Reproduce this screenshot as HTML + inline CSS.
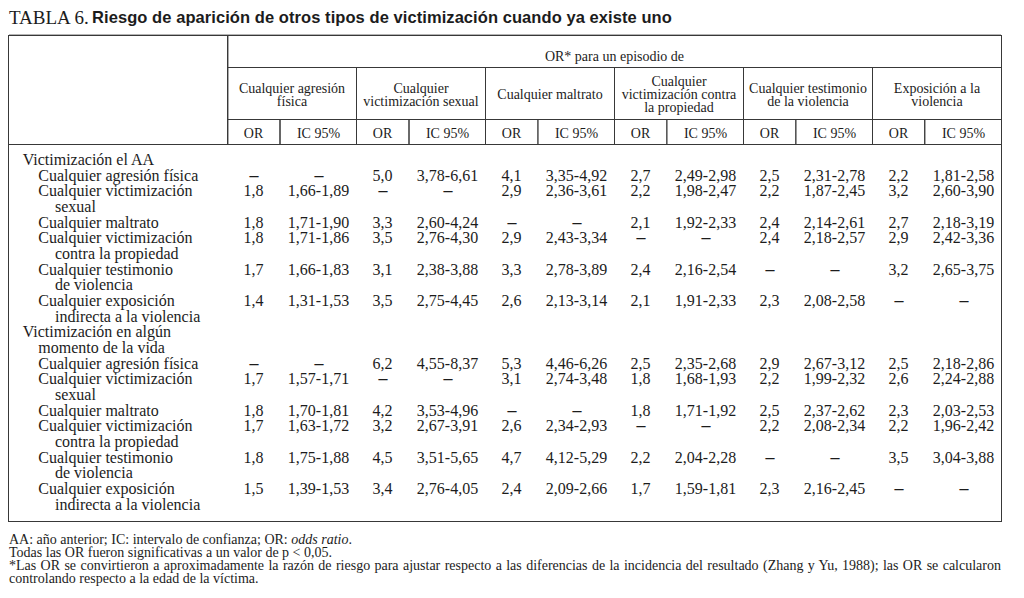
<!DOCTYPE html>
<html lang="es"><head><meta charset="utf-8"><title>Tabla 6</title>
<style>
html,body{margin:0;padding:0;background:#fff;}
#p{position:relative;width:1024px;height:598px;overflow:hidden;background:#fff;}
.t{position:absolute;white-space:nowrap;color:#1c1c1c;font-family:"Liberation Serif", "Times New Roman", serif;}
.l{position:absolute;background:#383838;}
.d{display:inline-block;transform:translateY(-1px) scale(1.12,1.4);}
</style></head><body><div id="p">
<div class="t" style="left:9.00px;top:8.00px;font-size:19px;line-height:19px;">TABLA 6.</div>
<div class="t" style="left:92.00px;top:9.00px;font-size:16.5px;line-height:16.5px;font-weight:bold;letter-spacing:0.07px;font-family:'Liberation Sans', Arial, sans-serif;">Riesgo de aparición de otros tipos de victimización cuando ya existe uno</div>
<div class="l" style="left:8px;top:35px;width:994px;height:1px;"></div>
<div class="l" style="left:9px;top:34px;width:992px;height:1px;background:#b4b4b4;"></div>
<div class="l" style="left:8px;top:521px;width:994px;height:1px;"></div>
<div class="l" style="left:8px;top:35px;width:1px;height:487px;"></div>
<div class="l" style="left:1001px;top:35px;width:1px;height:487px;"></div>
<div class="l" style="left:227px;top:35px;width:1px;height:110px;"></div>
<div class="l" style="left:228px;top:36px;width:1px;height:108px;background:#aaa;"></div>
<div class="l" style="left:227px;top:67px;width:774px;height:1px;"></div>
<div class="l" style="left:227px;top:119px;width:774px;height:1px;"></div>
<div class="l" style="left:8px;top:144px;width:993px;height:1px;"></div>
<div class="l" style="left:356px;top:67px;width:1px;height:78px;"></div>
<div class="l" style="left:485px;top:67px;width:1px;height:78px;"></div>
<div class="l" style="left:614px;top:67px;width:1px;height:78px;"></div>
<div class="l" style="left:743px;top:67px;width:1px;height:78px;"></div>
<div class="l" style="left:872px;top:67px;width:1px;height:78px;"></div>
<div class="l" style="left:279px;top:120px;width:1px;height:24px;background:#666;"></div>
<div class="l" style="left:280px;top:120px;width:1px;height:24px;background:#666;"></div>
<div class="l" style="left:408px;top:120px;width:1px;height:24px;background:#6a6a6a;"></div>
<div class="l" style="left:409px;top:120px;width:1px;height:24px;background:#6a6a6a;"></div>
<div class="l" style="left:537px;top:120px;width:1px;height:24px;background:#666;"></div>
<div class="l" style="left:538px;top:120px;width:1px;height:24px;background:#888;"></div>
<div class="l" style="left:666px;top:120px;width:1px;height:24px;background:#5a5a5a;"></div>
<div class="l" style="left:667px;top:120px;width:1px;height:24px;background:#999;"></div>
<div class="l" style="left:795px;top:120px;width:1px;height:24px;background:#555;"></div>
<div class="l" style="left:796px;top:120px;width:1px;height:24px;background:#999;"></div>
<div class="l" style="left:924px;top:120px;width:1px;height:24px;background:#444;"></div>
<div class="l" style="left:925px;top:120px;width:1px;height:24px;background:#aaa;"></div>
<div class="t" style="left:228.00px;top:50.00px;font-size:14px;line-height:14px;width:773.00px;text-align:center;">OR* para un episodio de</div>
<div class="t" style="left:228.00px;top:82.00px;font-size:14px;line-height:14px;width:128.00px;text-align:center;">Cualquier agresión</div>
<div class="t" style="left:228.00px;top:95.00px;font-size:14px;line-height:14px;width:128.00px;text-align:center;">física</div>
<div class="t" style="left:228.00px;top:127.00px;font-size:14px;line-height:14px;width:51.00px;text-align:center;">OR</div>
<div class="t" style="left:281.00px;top:127.00px;font-size:14px;line-height:14px;width:75.00px;text-align:center;">IC 95%</div>
<div class="t" style="left:357.00px;top:82.00px;font-size:14px;line-height:14px;width:128.00px;text-align:center;">Cualquier</div>
<div class="t" style="left:357.00px;top:95.00px;font-size:14px;line-height:14px;width:128.00px;text-align:center;">victimización sexual</div>
<div class="t" style="left:357.00px;top:127.00px;font-size:14px;line-height:14px;width:51.00px;text-align:center;">OR</div>
<div class="t" style="left:410.00px;top:127.00px;font-size:14px;line-height:14px;width:75.00px;text-align:center;">IC 95%</div>
<div class="t" style="left:486.00px;top:88.00px;font-size:14px;line-height:14px;width:128.00px;text-align:center;">Cualquier maltrato</div>
<div class="t" style="left:486.00px;top:127.00px;font-size:14px;line-height:14px;width:51.00px;text-align:center;">OR</div>
<div class="t" style="left:539.00px;top:127.00px;font-size:14px;line-height:14px;width:75.00px;text-align:center;">IC 95%</div>
<div class="t" style="left:615.00px;top:75.00px;font-size:14px;line-height:14px;width:128.00px;text-align:center;">Cualquier</div>
<div class="t" style="left:615.00px;top:88.00px;font-size:14px;line-height:14px;width:128.00px;text-align:center;">victimización contra</div>
<div class="t" style="left:615.00px;top:101.00px;font-size:14px;line-height:14px;width:128.00px;text-align:center;">la propiedad</div>
<div class="t" style="left:615.00px;top:127.00px;font-size:14px;line-height:14px;width:51.00px;text-align:center;">OR</div>
<div class="t" style="left:668.00px;top:127.00px;font-size:14px;line-height:14px;width:75.00px;text-align:center;">IC 95%</div>
<div class="t" style="left:744.00px;top:82.00px;font-size:14px;line-height:14px;width:128.00px;text-align:center;">Cualquier testimonio</div>
<div class="t" style="left:744.00px;top:95.00px;font-size:14px;line-height:14px;width:128.00px;text-align:center;">de la violencia</div>
<div class="t" style="left:744.00px;top:127.00px;font-size:14px;line-height:14px;width:51.00px;text-align:center;">OR</div>
<div class="t" style="left:797.00px;top:127.00px;font-size:14px;line-height:14px;width:75.00px;text-align:center;">IC 95%</div>
<div class="t" style="left:873.00px;top:82.00px;font-size:14px;line-height:14px;width:128.00px;text-align:center;">Exposición a la</div>
<div class="t" style="left:873.00px;top:95.00px;font-size:14px;line-height:14px;width:128.00px;text-align:center;">violencia</div>
<div class="t" style="left:873.00px;top:127.00px;font-size:14px;line-height:14px;width:51.00px;text-align:center;">OR</div>
<div class="t" style="left:926.00px;top:127.00px;font-size:14px;line-height:14px;width:75.00px;text-align:center;">IC 95%</div>
<div class="t" style="left:22.70px;top:152.00px;font-size:16px;line-height:16px;">Victimización el AA</div>
<div class="t" style="left:38.30px;top:168.00px;font-size:16px;line-height:16px;">Cualquier agresión física</div>
<div class="t" style="left:38.30px;top:183.00px;font-size:16px;line-height:16px;">Cualquier victimización</div>
<div class="t" style="left:55.00px;top:199.00px;font-size:16px;line-height:16px;">sexual</div>
<div class="t" style="left:38.30px;top:215.00px;font-size:16px;line-height:16px;">Cualquier maltrato</div>
<div class="t" style="left:38.30px;top:230.00px;font-size:16px;line-height:16px;">Cualquier victimización</div>
<div class="t" style="left:55.00px;top:246.00px;font-size:16px;line-height:16px;">contra la propiedad</div>
<div class="t" style="left:38.30px;top:262.00px;font-size:16px;line-height:16px;">Cualquier testimonio</div>
<div class="t" style="left:55.00px;top:277.00px;font-size:16px;line-height:16px;">de violencia</div>
<div class="t" style="left:38.30px;top:293.00px;font-size:16px;line-height:16px;">Cualquier exposición</div>
<div class="t" style="left:55.00px;top:309.00px;font-size:16px;line-height:16px;">indirecta a la violencia</div>
<div class="t" style="left:22.70px;top:324.00px;font-size:16px;line-height:16px;">Victimización en algún</div>
<div class="t" style="left:38.30px;top:340.00px;font-size:16px;line-height:16px;">momento de la vida</div>
<div class="t" style="left:38.30px;top:356.00px;font-size:16px;line-height:16px;">Cualquier agresión física</div>
<div class="t" style="left:38.30px;top:371.00px;font-size:16px;line-height:16px;">Cualquier victimización</div>
<div class="t" style="left:55.00px;top:387.00px;font-size:16px;line-height:16px;">sexual</div>
<div class="t" style="left:38.30px;top:403.00px;font-size:16px;line-height:16px;">Cualquier maltrato</div>
<div class="t" style="left:38.30px;top:418.00px;font-size:16px;line-height:16px;">Cualquier victimización</div>
<div class="t" style="left:55.00px;top:434.00px;font-size:16px;line-height:16px;">contra la propiedad</div>
<div class="t" style="left:38.30px;top:450.00px;font-size:16px;line-height:16px;">Cualquier testimonio</div>
<div class="t" style="left:55.00px;top:465.00px;font-size:16px;line-height:16px;">de violencia</div>
<div class="t" style="left:38.30px;top:481.00px;font-size:16px;line-height:16px;">Cualquier exposición</div>
<div class="t" style="left:55.00px;top:497.00px;font-size:16px;line-height:16px;">indirecta a la violencia</div>
<div class="t" style="left:228.00px;top:168.00px;font-size:16px;line-height:16px;width:51.00px;text-align:center;"><span class="d">–</span></div>
<div class="t" style="left:281.00px;top:168.00px;font-size:16px;line-height:16px;width:75.00px;text-align:center;"><span class="d">–</span></div>
<div class="t" style="left:357.00px;top:168.00px;font-size:16px;line-height:16px;width:51.00px;text-align:center;">5,0</div>
<div class="t" style="left:410.00px;top:168.00px;font-size:16px;line-height:16px;width:75.00px;text-align:center;">3,78-6,61</div>
<div class="t" style="left:486.00px;top:168.00px;font-size:16px;line-height:16px;width:51.00px;text-align:center;">4,1</div>
<div class="t" style="left:539.00px;top:168.00px;font-size:16px;line-height:16px;width:75.00px;text-align:center;">3,35-4,92</div>
<div class="t" style="left:615.00px;top:168.00px;font-size:16px;line-height:16px;width:51.00px;text-align:center;">2,7</div>
<div class="t" style="left:668.00px;top:168.00px;font-size:16px;line-height:16px;width:75.00px;text-align:center;">2,49-2,98</div>
<div class="t" style="left:744.00px;top:168.00px;font-size:16px;line-height:16px;width:51.00px;text-align:center;">2,5</div>
<div class="t" style="left:797.00px;top:168.00px;font-size:16px;line-height:16px;width:75.00px;text-align:center;">2,31-2,78</div>
<div class="t" style="left:873.00px;top:168.00px;font-size:16px;line-height:16px;width:51.00px;text-align:center;">2,2</div>
<div class="t" style="left:926.00px;top:168.00px;font-size:16px;line-height:16px;width:75.00px;text-align:center;">1,81-2,58</div>
<div class="t" style="left:228.00px;top:183.00px;font-size:16px;line-height:16px;width:51.00px;text-align:center;">1,8</div>
<div class="t" style="left:281.00px;top:183.00px;font-size:16px;line-height:16px;width:75.00px;text-align:center;">1,66-1,89</div>
<div class="t" style="left:357.00px;top:183.00px;font-size:16px;line-height:16px;width:51.00px;text-align:center;"><span class="d">–</span></div>
<div class="t" style="left:410.00px;top:183.00px;font-size:16px;line-height:16px;width:75.00px;text-align:center;"><span class="d">–</span></div>
<div class="t" style="left:486.00px;top:183.00px;font-size:16px;line-height:16px;width:51.00px;text-align:center;">2,9</div>
<div class="t" style="left:539.00px;top:183.00px;font-size:16px;line-height:16px;width:75.00px;text-align:center;">2,36-3,61</div>
<div class="t" style="left:615.00px;top:183.00px;font-size:16px;line-height:16px;width:51.00px;text-align:center;">2,2</div>
<div class="t" style="left:668.00px;top:183.00px;font-size:16px;line-height:16px;width:75.00px;text-align:center;">1,98-2,47</div>
<div class="t" style="left:744.00px;top:183.00px;font-size:16px;line-height:16px;width:51.00px;text-align:center;">2,2</div>
<div class="t" style="left:797.00px;top:183.00px;font-size:16px;line-height:16px;width:75.00px;text-align:center;">1,87-2,45</div>
<div class="t" style="left:873.00px;top:183.00px;font-size:16px;line-height:16px;width:51.00px;text-align:center;">3,2</div>
<div class="t" style="left:926.00px;top:183.00px;font-size:16px;line-height:16px;width:75.00px;text-align:center;">2,60-3,90</div>
<div class="t" style="left:228.00px;top:215.00px;font-size:16px;line-height:16px;width:51.00px;text-align:center;">1,8</div>
<div class="t" style="left:281.00px;top:215.00px;font-size:16px;line-height:16px;width:75.00px;text-align:center;">1,71-1,90</div>
<div class="t" style="left:357.00px;top:215.00px;font-size:16px;line-height:16px;width:51.00px;text-align:center;">3,3</div>
<div class="t" style="left:410.00px;top:215.00px;font-size:16px;line-height:16px;width:75.00px;text-align:center;">2,60-4,24</div>
<div class="t" style="left:486.00px;top:215.00px;font-size:16px;line-height:16px;width:51.00px;text-align:center;"><span class="d">–</span></div>
<div class="t" style="left:539.00px;top:215.00px;font-size:16px;line-height:16px;width:75.00px;text-align:center;"><span class="d">–</span></div>
<div class="t" style="left:615.00px;top:215.00px;font-size:16px;line-height:16px;width:51.00px;text-align:center;">2,1</div>
<div class="t" style="left:668.00px;top:215.00px;font-size:16px;line-height:16px;width:75.00px;text-align:center;">1,92-2,33</div>
<div class="t" style="left:744.00px;top:215.00px;font-size:16px;line-height:16px;width:51.00px;text-align:center;">2,4</div>
<div class="t" style="left:797.00px;top:215.00px;font-size:16px;line-height:16px;width:75.00px;text-align:center;">2,14-2,61</div>
<div class="t" style="left:873.00px;top:215.00px;font-size:16px;line-height:16px;width:51.00px;text-align:center;">2,7</div>
<div class="t" style="left:926.00px;top:215.00px;font-size:16px;line-height:16px;width:75.00px;text-align:center;">2,18-3,19</div>
<div class="t" style="left:228.00px;top:230.00px;font-size:16px;line-height:16px;width:51.00px;text-align:center;">1,8</div>
<div class="t" style="left:281.00px;top:230.00px;font-size:16px;line-height:16px;width:75.00px;text-align:center;">1,71-1,86</div>
<div class="t" style="left:357.00px;top:230.00px;font-size:16px;line-height:16px;width:51.00px;text-align:center;">3,5</div>
<div class="t" style="left:410.00px;top:230.00px;font-size:16px;line-height:16px;width:75.00px;text-align:center;">2,76-4,30</div>
<div class="t" style="left:486.00px;top:230.00px;font-size:16px;line-height:16px;width:51.00px;text-align:center;">2,9</div>
<div class="t" style="left:539.00px;top:230.00px;font-size:16px;line-height:16px;width:75.00px;text-align:center;">2,43-3,34</div>
<div class="t" style="left:615.00px;top:230.00px;font-size:16px;line-height:16px;width:51.00px;text-align:center;"><span class="d">–</span></div>
<div class="t" style="left:668.00px;top:230.00px;font-size:16px;line-height:16px;width:75.00px;text-align:center;"><span class="d">–</span></div>
<div class="t" style="left:744.00px;top:230.00px;font-size:16px;line-height:16px;width:51.00px;text-align:center;">2,4</div>
<div class="t" style="left:797.00px;top:230.00px;font-size:16px;line-height:16px;width:75.00px;text-align:center;">2,18-2,57</div>
<div class="t" style="left:873.00px;top:230.00px;font-size:16px;line-height:16px;width:51.00px;text-align:center;">2,9</div>
<div class="t" style="left:926.00px;top:230.00px;font-size:16px;line-height:16px;width:75.00px;text-align:center;">2,42-3,36</div>
<div class="t" style="left:228.00px;top:262.00px;font-size:16px;line-height:16px;width:51.00px;text-align:center;">1,7</div>
<div class="t" style="left:281.00px;top:262.00px;font-size:16px;line-height:16px;width:75.00px;text-align:center;">1,66-1,83</div>
<div class="t" style="left:357.00px;top:262.00px;font-size:16px;line-height:16px;width:51.00px;text-align:center;">3,1</div>
<div class="t" style="left:410.00px;top:262.00px;font-size:16px;line-height:16px;width:75.00px;text-align:center;">2,38-3,88</div>
<div class="t" style="left:486.00px;top:262.00px;font-size:16px;line-height:16px;width:51.00px;text-align:center;">3,3</div>
<div class="t" style="left:539.00px;top:262.00px;font-size:16px;line-height:16px;width:75.00px;text-align:center;">2,78-3,89</div>
<div class="t" style="left:615.00px;top:262.00px;font-size:16px;line-height:16px;width:51.00px;text-align:center;">2,4</div>
<div class="t" style="left:668.00px;top:262.00px;font-size:16px;line-height:16px;width:75.00px;text-align:center;">2,16-2,54</div>
<div class="t" style="left:744.00px;top:262.00px;font-size:16px;line-height:16px;width:51.00px;text-align:center;"><span class="d">–</span></div>
<div class="t" style="left:797.00px;top:262.00px;font-size:16px;line-height:16px;width:75.00px;text-align:center;"><span class="d">–</span></div>
<div class="t" style="left:873.00px;top:262.00px;font-size:16px;line-height:16px;width:51.00px;text-align:center;">3,2</div>
<div class="t" style="left:926.00px;top:262.00px;font-size:16px;line-height:16px;width:75.00px;text-align:center;">2,65-3,75</div>
<div class="t" style="left:228.00px;top:293.00px;font-size:16px;line-height:16px;width:51.00px;text-align:center;">1,4</div>
<div class="t" style="left:281.00px;top:293.00px;font-size:16px;line-height:16px;width:75.00px;text-align:center;">1,31-1,53</div>
<div class="t" style="left:357.00px;top:293.00px;font-size:16px;line-height:16px;width:51.00px;text-align:center;">3,5</div>
<div class="t" style="left:410.00px;top:293.00px;font-size:16px;line-height:16px;width:75.00px;text-align:center;">2,75-4,45</div>
<div class="t" style="left:486.00px;top:293.00px;font-size:16px;line-height:16px;width:51.00px;text-align:center;">2,6</div>
<div class="t" style="left:539.00px;top:293.00px;font-size:16px;line-height:16px;width:75.00px;text-align:center;">2,13-3,14</div>
<div class="t" style="left:615.00px;top:293.00px;font-size:16px;line-height:16px;width:51.00px;text-align:center;">2,1</div>
<div class="t" style="left:668.00px;top:293.00px;font-size:16px;line-height:16px;width:75.00px;text-align:center;">1,91-2,33</div>
<div class="t" style="left:744.00px;top:293.00px;font-size:16px;line-height:16px;width:51.00px;text-align:center;">2,3</div>
<div class="t" style="left:797.00px;top:293.00px;font-size:16px;line-height:16px;width:75.00px;text-align:center;">2,08-2,58</div>
<div class="t" style="left:873.00px;top:293.00px;font-size:16px;line-height:16px;width:51.00px;text-align:center;"><span class="d">–</span></div>
<div class="t" style="left:926.00px;top:293.00px;font-size:16px;line-height:16px;width:75.00px;text-align:center;"><span class="d">–</span></div>
<div class="t" style="left:228.00px;top:356.00px;font-size:16px;line-height:16px;width:51.00px;text-align:center;"><span class="d">–</span></div>
<div class="t" style="left:281.00px;top:356.00px;font-size:16px;line-height:16px;width:75.00px;text-align:center;"><span class="d">–</span></div>
<div class="t" style="left:357.00px;top:356.00px;font-size:16px;line-height:16px;width:51.00px;text-align:center;">6,2</div>
<div class="t" style="left:410.00px;top:356.00px;font-size:16px;line-height:16px;width:75.00px;text-align:center;">4,55-8,37</div>
<div class="t" style="left:486.00px;top:356.00px;font-size:16px;line-height:16px;width:51.00px;text-align:center;">5,3</div>
<div class="t" style="left:539.00px;top:356.00px;font-size:16px;line-height:16px;width:75.00px;text-align:center;">4,46-6,26</div>
<div class="t" style="left:615.00px;top:356.00px;font-size:16px;line-height:16px;width:51.00px;text-align:center;">2,5</div>
<div class="t" style="left:668.00px;top:356.00px;font-size:16px;line-height:16px;width:75.00px;text-align:center;">2,35-2,68</div>
<div class="t" style="left:744.00px;top:356.00px;font-size:16px;line-height:16px;width:51.00px;text-align:center;">2,9</div>
<div class="t" style="left:797.00px;top:356.00px;font-size:16px;line-height:16px;width:75.00px;text-align:center;">2,67-3,12</div>
<div class="t" style="left:873.00px;top:356.00px;font-size:16px;line-height:16px;width:51.00px;text-align:center;">2,5</div>
<div class="t" style="left:926.00px;top:356.00px;font-size:16px;line-height:16px;width:75.00px;text-align:center;">2,18-2,86</div>
<div class="t" style="left:228.00px;top:371.00px;font-size:16px;line-height:16px;width:51.00px;text-align:center;">1,7</div>
<div class="t" style="left:281.00px;top:371.00px;font-size:16px;line-height:16px;width:75.00px;text-align:center;">1,57-1,71</div>
<div class="t" style="left:357.00px;top:371.00px;font-size:16px;line-height:16px;width:51.00px;text-align:center;"><span class="d">–</span></div>
<div class="t" style="left:410.00px;top:371.00px;font-size:16px;line-height:16px;width:75.00px;text-align:center;"><span class="d">–</span></div>
<div class="t" style="left:486.00px;top:371.00px;font-size:16px;line-height:16px;width:51.00px;text-align:center;">3,1</div>
<div class="t" style="left:539.00px;top:371.00px;font-size:16px;line-height:16px;width:75.00px;text-align:center;">2,74-3,48</div>
<div class="t" style="left:615.00px;top:371.00px;font-size:16px;line-height:16px;width:51.00px;text-align:center;">1,8</div>
<div class="t" style="left:668.00px;top:371.00px;font-size:16px;line-height:16px;width:75.00px;text-align:center;">1,68-1,93</div>
<div class="t" style="left:744.00px;top:371.00px;font-size:16px;line-height:16px;width:51.00px;text-align:center;">2,2</div>
<div class="t" style="left:797.00px;top:371.00px;font-size:16px;line-height:16px;width:75.00px;text-align:center;">1,99-2,32</div>
<div class="t" style="left:873.00px;top:371.00px;font-size:16px;line-height:16px;width:51.00px;text-align:center;">2,6</div>
<div class="t" style="left:926.00px;top:371.00px;font-size:16px;line-height:16px;width:75.00px;text-align:center;">2,24-2,88</div>
<div class="t" style="left:228.00px;top:403.00px;font-size:16px;line-height:16px;width:51.00px;text-align:center;">1,8</div>
<div class="t" style="left:281.00px;top:403.00px;font-size:16px;line-height:16px;width:75.00px;text-align:center;">1,70-1,81</div>
<div class="t" style="left:357.00px;top:403.00px;font-size:16px;line-height:16px;width:51.00px;text-align:center;">4,2</div>
<div class="t" style="left:410.00px;top:403.00px;font-size:16px;line-height:16px;width:75.00px;text-align:center;">3,53-4,96</div>
<div class="t" style="left:486.00px;top:403.00px;font-size:16px;line-height:16px;width:51.00px;text-align:center;"><span class="d">–</span></div>
<div class="t" style="left:539.00px;top:403.00px;font-size:16px;line-height:16px;width:75.00px;text-align:center;"><span class="d">–</span></div>
<div class="t" style="left:615.00px;top:403.00px;font-size:16px;line-height:16px;width:51.00px;text-align:center;">1,8</div>
<div class="t" style="left:668.00px;top:403.00px;font-size:16px;line-height:16px;width:75.00px;text-align:center;">1,71-1,92</div>
<div class="t" style="left:744.00px;top:403.00px;font-size:16px;line-height:16px;width:51.00px;text-align:center;">2,5</div>
<div class="t" style="left:797.00px;top:403.00px;font-size:16px;line-height:16px;width:75.00px;text-align:center;">2,37-2,62</div>
<div class="t" style="left:873.00px;top:403.00px;font-size:16px;line-height:16px;width:51.00px;text-align:center;">2,3</div>
<div class="t" style="left:926.00px;top:403.00px;font-size:16px;line-height:16px;width:75.00px;text-align:center;">2,03-2,53</div>
<div class="t" style="left:228.00px;top:418.00px;font-size:16px;line-height:16px;width:51.00px;text-align:center;">1,7</div>
<div class="t" style="left:281.00px;top:418.00px;font-size:16px;line-height:16px;width:75.00px;text-align:center;">1,63-1,72</div>
<div class="t" style="left:357.00px;top:418.00px;font-size:16px;line-height:16px;width:51.00px;text-align:center;">3,2</div>
<div class="t" style="left:410.00px;top:418.00px;font-size:16px;line-height:16px;width:75.00px;text-align:center;">2,67-3,91</div>
<div class="t" style="left:486.00px;top:418.00px;font-size:16px;line-height:16px;width:51.00px;text-align:center;">2,6</div>
<div class="t" style="left:539.00px;top:418.00px;font-size:16px;line-height:16px;width:75.00px;text-align:center;">2,34-2,93</div>
<div class="t" style="left:615.00px;top:418.00px;font-size:16px;line-height:16px;width:51.00px;text-align:center;"><span class="d">–</span></div>
<div class="t" style="left:668.00px;top:418.00px;font-size:16px;line-height:16px;width:75.00px;text-align:center;"><span class="d">–</span></div>
<div class="t" style="left:744.00px;top:418.00px;font-size:16px;line-height:16px;width:51.00px;text-align:center;">2,2</div>
<div class="t" style="left:797.00px;top:418.00px;font-size:16px;line-height:16px;width:75.00px;text-align:center;">2,08-2,34</div>
<div class="t" style="left:873.00px;top:418.00px;font-size:16px;line-height:16px;width:51.00px;text-align:center;">2,2</div>
<div class="t" style="left:926.00px;top:418.00px;font-size:16px;line-height:16px;width:75.00px;text-align:center;">1,96-2,42</div>
<div class="t" style="left:228.00px;top:450.00px;font-size:16px;line-height:16px;width:51.00px;text-align:center;">1,8</div>
<div class="t" style="left:281.00px;top:450.00px;font-size:16px;line-height:16px;width:75.00px;text-align:center;">1,75-1,88</div>
<div class="t" style="left:357.00px;top:450.00px;font-size:16px;line-height:16px;width:51.00px;text-align:center;">4,5</div>
<div class="t" style="left:410.00px;top:450.00px;font-size:16px;line-height:16px;width:75.00px;text-align:center;">3,51-5,65</div>
<div class="t" style="left:486.00px;top:450.00px;font-size:16px;line-height:16px;width:51.00px;text-align:center;">4,7</div>
<div class="t" style="left:539.00px;top:450.00px;font-size:16px;line-height:16px;width:75.00px;text-align:center;">4,12-5,29</div>
<div class="t" style="left:615.00px;top:450.00px;font-size:16px;line-height:16px;width:51.00px;text-align:center;">2,2</div>
<div class="t" style="left:668.00px;top:450.00px;font-size:16px;line-height:16px;width:75.00px;text-align:center;">2,04-2,28</div>
<div class="t" style="left:744.00px;top:450.00px;font-size:16px;line-height:16px;width:51.00px;text-align:center;"><span class="d">–</span></div>
<div class="t" style="left:797.00px;top:450.00px;font-size:16px;line-height:16px;width:75.00px;text-align:center;"><span class="d">–</span></div>
<div class="t" style="left:873.00px;top:450.00px;font-size:16px;line-height:16px;width:51.00px;text-align:center;">3,5</div>
<div class="t" style="left:926.00px;top:450.00px;font-size:16px;line-height:16px;width:75.00px;text-align:center;">3,04-3,88</div>
<div class="t" style="left:228.00px;top:481.00px;font-size:16px;line-height:16px;width:51.00px;text-align:center;">1,5</div>
<div class="t" style="left:281.00px;top:481.00px;font-size:16px;line-height:16px;width:75.00px;text-align:center;">1,39-1,53</div>
<div class="t" style="left:357.00px;top:481.00px;font-size:16px;line-height:16px;width:51.00px;text-align:center;">3,4</div>
<div class="t" style="left:410.00px;top:481.00px;font-size:16px;line-height:16px;width:75.00px;text-align:center;">2,76-4,05</div>
<div class="t" style="left:486.00px;top:481.00px;font-size:16px;line-height:16px;width:51.00px;text-align:center;">2,4</div>
<div class="t" style="left:539.00px;top:481.00px;font-size:16px;line-height:16px;width:75.00px;text-align:center;">2,09-2,66</div>
<div class="t" style="left:615.00px;top:481.00px;font-size:16px;line-height:16px;width:51.00px;text-align:center;">1,7</div>
<div class="t" style="left:668.00px;top:481.00px;font-size:16px;line-height:16px;width:75.00px;text-align:center;">1,59-1,81</div>
<div class="t" style="left:744.00px;top:481.00px;font-size:16px;line-height:16px;width:51.00px;text-align:center;">2,3</div>
<div class="t" style="left:797.00px;top:481.00px;font-size:16px;line-height:16px;width:75.00px;text-align:center;">2,16-2,45</div>
<div class="t" style="left:873.00px;top:481.00px;font-size:16px;line-height:16px;width:51.00px;text-align:center;"><span class="d">–</span></div>
<div class="t" style="left:926.00px;top:481.00px;font-size:16px;line-height:16px;width:75.00px;text-align:center;"><span class="d">–</span></div>
<div class="t" style="left:9.00px;top:533.00px;font-size:14px;line-height:14px;">AA: año anterior; IC: intervalo de confianza; OR: <i>odds ratio</i>.</div>
<div class="t" style="left:9.00px;top:546.00px;font-size:14px;line-height:14px;">Todas las OR fueron significativas a un valor de p &lt; 0,05.</div>
<div class="t" style="left:9.00px;top:559.00px;font-size:14px;line-height:14px;width:992.00px;text-align:justify;text-align-last:justify;white-space:normal;">*Las OR se convirtieron a aproximadamente la razón de riesgo para ajustar respecto a las diferencias de la incidencia del resultado (Zhang y Yu, 1988); las OR se calcularon</div>
<div class="t" style="left:9.00px;top:572.00px;font-size:14px;line-height:14px;">controlando respecto a la edad de la víctima.</div>
</div></body></html>
